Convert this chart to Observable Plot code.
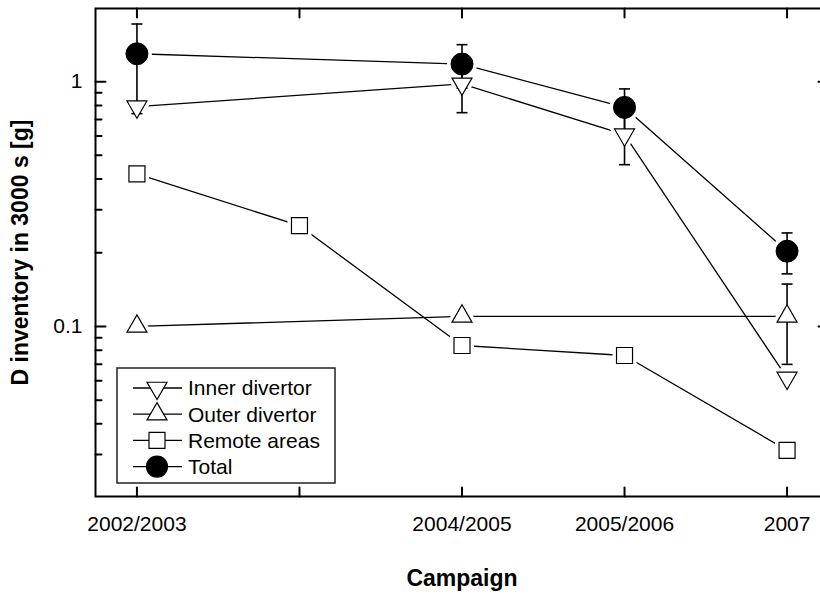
<!DOCTYPE html>
<html><head><meta charset="utf-8">
<script src="https://cdn.jsdelivr.net/npm/d3@7"></script>
<script src="https://cdn.jsdelivr.net/npm/@observablehq/plot@0.6"></script>
<style>
html,body{margin:0;padding:0;background:#fff;overflow:hidden;}
#wrap{position:relative;width:830px;height:601px;font-family:'Liberation Sans',Arial,sans-serif;}
</style></head><body><div id="wrap"></div>
<script>
// campaigns (x index 0..4); the second one is not labelled on the axis
const xTickLabels = ["2002/2003", "", "2004/2005", "2005/2006", "2007"];
const xTicks = [0, 1, 2, 3, 4];

// Inner divertor
const innerX = [0, 2, 3, 4];
const innerVals = [0.79, 0.98, 0.607, 0.0616];
const innerLo = [null, 0.747, 0.458, null];
const innerHi = [null, 1.21, 0.75, null];
// Outer divertor
const outerX = [0, 2, 4];
const outerVals = [0.100, 0.110, 0.110];
const outerLo = [null, null, 0.070];
const outerHi = [null, null, 0.149];
// Remote areas
const remoteX = [0, 1, 2, 3, 4];
const remoteVals = [0.42, 0.258, 0.0836, 0.0761, 0.0312];
// Total
const totalX = [0, 2, 3, 4];
const totalVals = [1.30, 1.18, 0.785, 0.203];
const totalLo = [0.74, 0.94, 0.635, 0.164];
const totalHi = [1.72, 1.416, 0.934, 0.241];

const yMajorTicks = [0.1, 1];
const yMajorLabels = ["0.1", "1"];
const yMinorTicks = [0.03, 0.04, 0.05, 0.06, 0.07, 0.08, 0.09, 0.2, 0.3, 0.4, 0.5, 0.6, 0.7, 0.8, 0.9];

const xTitle = "Campaign";
const yTitle = "D inventory in 3000 s [g]";
const legendNames = ["Inner divertor", "Outer divertor", "Remote areas", "Total"];

const font = "'Liberation Sans', Arial, sans-serif";

function rows(xs, vals, lo, hi) {
  return xs.map((x, i) => ({x, y: vals[i], lo: lo ? lo[i] : null, hi: hi ? hi[i] : null}));
}
const inner = rows(innerX, innerVals, innerLo, innerHi);
const outer = rows(outerX, outerVals, outerLo, outerHi);
const remote = rows(remoteX, remoteVals);
const total = rows(totalX, totalVals, totalLo, totalHi);
const errs = [...inner, ...outer, ...total].filter(d => d.lo != null);

const tickShape = {draw(ctx, l) { ctx.moveTo(0, 0); ctx.lineTo(0, -l); }};
const capSymbol = {draw(ctx) { ctx.moveTo(-5.5, 0); ctx.lineTo(5.5, 0); }};

const TRI_R = 7.42, SQ_R = 9.03, CIR_R = 11;
const lineStyle = {x: "x", y: "y", stroke: "black", strokeWidth: 1.3};
const halo = {x: "x", y: "y", fill: "white", stroke: "white", strokeWidth: 8};

const chart = Plot.plot({
  width: 830, height: 601,
  marginLeft: 95, marginRight: 2, marginTop: 8, marginBottom: 105,
  style: {fontFamily: font, fontSize: "21px", color: "black", background: "white"},
  x: {domain: [-0.255, 4.255]},
  y: {type: "log", domain: [0.0202, 1.99]},
  marks: [
    Plot.line(inner, lineStyle),
    Plot.line(outer, lineStyle),
    Plot.line(remote, lineStyle),
    Plot.line(total, lineStyle),
    Plot.dot(inner, {...halo, symbol: "triangle", r: TRI_R, rotate: 180}),
    Plot.dot(outer, {...halo, symbol: "triangle", r: TRI_R}),
    Plot.dot(remote, {...halo, symbol: "square", r: SQ_R}),
    Plot.dot(total, {...halo, symbol: "circle", r: CIR_R}),
    Plot.ruleX(errs, {x: "x", y1: "lo", y2: "hi", stroke: "black", strokeWidth: 1.6}),
    Plot.dot(errs, {x: "x", y: "lo", symbol: capSymbol, r: 3, stroke: "black", strokeWidth: 1.6, fill: "none"}),
    Plot.dot(errs, {x: "x", y: "hi", symbol: capSymbol, r: 3, stroke: "black", strokeWidth: 1.6, fill: "none"}),
    Plot.dot(inner, {x: "x", y: "y", symbol: "triangle", r: TRI_R, rotate: 180, fill: "white", stroke: "black", strokeWidth: 1.2}),
    Plot.dot(outer, {x: "x", y: "y", symbol: "triangle", r: TRI_R, fill: "white", stroke: "black", strokeWidth: 1.2}),
    Plot.dot(remote, {x: "x", y: "y", symbol: "square", r: SQ_R, fill: "white", stroke: "black", strokeWidth: 1.2}),
    Plot.dot(total, {x: "x", y: "y", symbol: "circle", r: CIR_R, fill: "black", stroke: "black", strokeWidth: 1}),
    Plot.frame({stroke: "black", strokeWidth: 2}),
    // inward ticks
    Plot.vector(xTicks, {x: d => d, frameAnchor: "bottom", length: 9, rotate: 0, anchor: "start", shape: tickShape, stroke: "black", strokeWidth: 2}),
    Plot.vector(xTicks, {x: d => d, frameAnchor: "top", length: 9, rotate: 180, anchor: "start", shape: tickShape, stroke: "black", strokeWidth: 2}),
    Plot.vector(yMajorTicks, {y: d => d, frameAnchor: "left", length: 10, rotate: 90, anchor: "start", shape: tickShape, stroke: "black", strokeWidth: 2}),
    Plot.vector(yMajorTicks, {y: d => d, frameAnchor: "right", length: 10, rotate: -90, anchor: "start", shape: tickShape, stroke: "black", strokeWidth: 2}),
    Plot.vector(yMinorTicks, {y: d => d, frameAnchor: "left", length: 6, rotate: 90, anchor: "start", shape: tickShape, stroke: "black", strokeWidth: 2}),
    Plot.vector(yMinorTicks, {y: d => d, frameAnchor: "right", length: 6, rotate: -90, anchor: "start", shape: tickShape, stroke: "black", strokeWidth: 2}),
    Plot.axisX({ticks: xTicks.filter(i => xTickLabels[i] !== ""), tickFormat: d => xTickLabels[d], tickSize: 0, tickPadding: 20, fontSize: 21, label: null}),
    Plot.axisY({ticks: yMajorTicks, tickFormat: d => yMajorLabels[yMajorTicks.indexOf(d)], tickSize: 0, tickPadding: 13, fontSize: 21, label: null}),
    Plot.text([xTitle], {text: d => d, frameAnchor: "bottom", lineAnchor: "middle", textAnchor: "middle", dy: 82, fontSize: 23, fontWeight: "bold", fill: "black"}),
    Plot.text([yTitle], {text: d => d, frameAnchor: "left", lineAnchor: "middle", textAnchor: "middle", dx: -75, rotate: -90, fontSize: 23, fontWeight: "bold", fill: "black"})
  ]
});
document.getElementById("wrap").appendChild(chart);

// legend box inside the plot area
const legendSymbols = [
  {type: d3.symbolTriangle, size: Math.PI * TRI_R * TRI_R, rotate: 180, fill: "white"},
  {type: d3.symbolTriangle, size: Math.PI * TRI_R * TRI_R, rotate: 0, fill: "white"},
  {type: d3.symbolSquare, size: Math.PI * SQ_R * SQ_R, rotate: 0, fill: "white"},
  {type: d3.symbolCircle, size: Math.PI * 10.5 * 10.5, rotate: 0, fill: "black"}
];
const leg = d3.select("#wrap").append("svg")
  .attr("width", 221).attr("height", 118)
  .style("position", "absolute").style("left", "116px").style("top", "367px");
leg.append("rect").attr("x", 1).attr("y", 1).attr("width", 218).attr("height", 115)
  .attr("fill", "white").attr("stroke", "#222").attr("stroke-width", 1.5);
legendNames.forEach((name, i) => {
  const cy = 21 + i * 26.2;
  const s = legendSymbols[i];
  leg.append("line").attr("x1", 17).attr("x2", 66).attr("y1", cy).attr("y2", cy)
    .attr("stroke", "black").attr("stroke-width", 1.3);
  leg.append("path").attr("d", d3.symbol(s.type, s.size)())
    .attr("transform", `translate(41,${cy}) rotate(${s.rotate})`)
    .attr("fill", s.fill).attr("stroke", "black").attr("stroke-width", 1.2);
  leg.append("text").attr("x", 72).attr("y", cy).attr("dy", "0.35em")
    .attr("font-family", font).attr("font-size", 21).attr("fill", "black").text(name);
});
</script>
</body></html>
